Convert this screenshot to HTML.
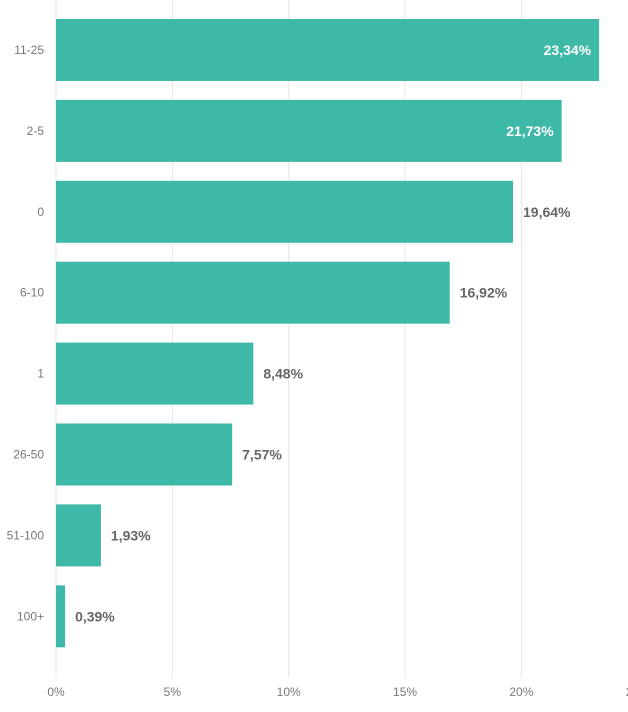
<!DOCTYPE html>
<html><head><meta charset="utf-8"><style>
body{margin:0;background:#fff;width:628px;height:707px;overflow:hidden;font-family:"Liberation Sans",sans-serif}
</style></head><body>
<svg id="chart" width="628" height="707" xmlns="http://www.w3.org/2000/svg"></svg>
<script>
const categories=["11-25","2-5","0","6-10","1","26-50","51-100","100+"];
const values=[23.34,21.73,19.64,16.92,8.48,7.57,1.93,0.39];
const valueLabels=["23,34%","21,73%","19,64%","16,92%","8,48%","7,57%","1,93%","0,39%"];
const ticks=[0,5,10,15,20,25];
const tickLabels=["0%","5%","10%","15%","20%","25%"];
const svg=document.getElementById('chart');
const NS="http://www.w3.org/2000/svg";
const x0=56,pxPer=23.27;
const x=v=>x0+v*pxPer;
const top0=19,band=80.9,barH=62;
const y=i=>top0+i*band;
function mk(t,a){const e=document.createElementNS(NS,t);for(const k in a)e.setAttribute(k,a[k]);svg.appendChild(e);return e;}
ticks.forEach((t,i)=>{
 const g=mk('line',{x1:x(t),x2:x(t),y1:0,y2:678,stroke:'#e6e6e6','stroke-width':1});
 
 
 const tx=mk('text',{x:x(t),y:696,'text-anchor':'middle','font-size':12,fill:'#777'});
 tx.textContent=tickLabels[i];
 
 
});
categories.forEach((c,i)=>{
 const r=mk('rect',{x:x0,y:y(i),width:x(values[i])-x0,height:barH,fill:'#3eb8a7'});
 
 
 const l=mk('text',{x:44,y:y(i)+barH/2+4,'text-anchor':'end','font-size':12,fill:'#777'});
 l.textContent=c;
 
 
 const inside=x(values[i])+70>628;
 const v=mk('text',{x:inside?x(values[i])-8:x(values[i])+10,y:y(i)+barH/2+5,'text-anchor':inside?'end':'start','font-size':14,'font-weight':'bold',fill:inside?'#fff':'#666'});
 v.textContent=valueLabels[i];
 
 
});
</script>
</body></html>
